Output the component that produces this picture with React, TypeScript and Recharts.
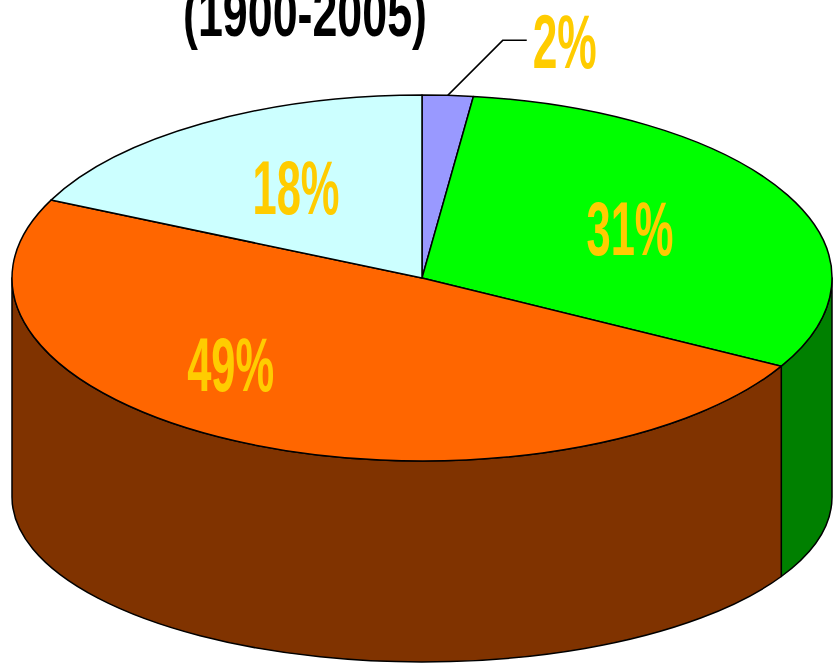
import React from 'react';
import { PieChart, Pie, Cell } from 'recharts';

const CATEGORIES = ['Slice A', 'Slice B', 'Slice C', 'Slice D'];
const VALUES = [2, 31, 49, 18];
const PERCENT_LABELS = ['2%', '31%', '49%', '18%'];
const TITLE = '(1900-2005)';

const TOP_COLORS = ['#9999FF', '#00FF00', '#FF6600', '#CCFFFF'];
const SIDE_COLORS = ['#5C5CB8', '#008000', '#803300', '#7FA3A3'];
const LABEL_COLOR = '#FFCC00';

const W = 834;
const H = 667;
const CX = 422;
const CY = 278;
const R = 410;
const RY_RATIO = 183 / 410;
const BOTTOM_RY_RATIO = 165 / 410;
const DEPTH = 219;
const RAD = Math.PI / 180;
const FONT = "'Liberation Sans Narrow', 'Liberation Sans', Arial, sans-serif";

const LABEL_ANGLE_SHIFT = [0, 2, -18, -1];
const LABEL_RADIUS = [0, 0.58, 0.66, 0.59];

const tableData = CATEGORIES.map((name, i) => ({ name, value: VALUES[i] }));

function idxOf(props: any): number {
  const n = props.name ?? props.payload?.name;
  let i = CATEGORIES.indexOf(n);
  if (i < 0 && typeof props.index === 'number') i = props.index;
  if (i < 0) i = TOP_COLORS.indexOf(props.fill);
  return i < 0 ? 0 : i;
}

function Sector3D(props: any) {
  const { cx, cy, outerRadius, startAngle, endAngle, fill } = props;
  const i = idxOf(props);
  const rx = outerRadius;
  const ry = rx * RY_RATIO;
  const ry2 = rx * BOTTOM_RY_RATIO;
  const cy2 = cy + DEPTH;
  const top = (a: number) => `${cx + rx * Math.cos(a * RAD)},${cy - ry * Math.sin(a * RAD)}`;
  const bot = (a: number) => `${cx + rx * Math.cos(a * RAD)},${cy2 - ry2 * Math.sin(a * RAD)}`;
  const hi = Math.max(startAngle, endAngle);
  const lo = Math.min(startAngle, endAngle);
  const large = hi - lo > 180 ? 1 : 0;
  const topPath = `M${cx},${cy} L${top(hi)} A${rx},${ry} 0 ${large} 1 ${top(lo)} Z`;
  const sides: string[] = [];
  for (let k = -2; k <= 2; k++) {
    const a = -180 + 360 * k;
    const b = 360 * k;
    const l = Math.max(lo, a);
    const h = Math.min(hi, b);
    if (h - l > 0.01) {
      sides.push(
        `M${top(h)} A${rx},${ry} 0 0 1 ${top(l)} L${bot(l)} A${rx},${ry2} 0 0 0 ${bot(h)} Z`
      );
    }
  }
  return (
    <g>
      {sides.map((d, j) => (
        <path key={j} d={d} fill={SIDE_COLORS[i]} stroke="#000" strokeWidth={1.5} strokeLinejoin="round" />
      ))}
      <path d={topPath} fill={fill} stroke="#000" strokeWidth={1.5} strokeLinejoin="round" />
    </g>
  );
}

function renderLabel(props: any) {
  const { cx, cy, midAngle, outerRadius, percent } = props;
  const i = idxOf(props);
  const rx = outerRadius;
  const ry = rx * RY_RATIO;
  const text = PERCENT_LABELS[i];
  const tl = text.length === 2 ? 64 : 87;
  if (percent < 0.05) {
    const ex = cx + rx * Math.cos(midAngle * RAD);
    const ey = cy - ry * Math.sin(midAngle * RAD);
    const kx = ex + 55;
    const ky = ey - 55;
    const hx = kx + 24;
    return (
      <g>
        <polyline points={`${ex},${ey} ${kx},${ky} ${hx},${ky}`} fill="none" stroke="#000" strokeWidth={1.5} />
        <text x={hx + 6} y={ky + 28} fill={LABEL_COLOR} fontFamily={FONT} fontWeight="bold" fontSize={76}
          textAnchor="start" textLength={tl} lengthAdjust="spacingAndGlyphs">{text}</text>
      </g>
    );
  }
  const a = midAngle + LABEL_ANGLE_SHIFT[i];
  const r = LABEL_RADIUS[i];
  const x = cx + rx * r * Math.cos(a * RAD);
  const y = cy - ry * r * Math.sin(a * RAD);
  return (
    <text x={x - tl / 2} y={y + 28} fill={LABEL_COLOR} fontFamily={FONT} fontWeight="bold" fontSize={76}
      textAnchor="start" textLength={tl} lengthAdjust="spacingAndGlyphs">{text}</text>
  );
}

export default function App() {
  return (
    <div style={{ position: 'absolute', left: 0, top: 0, width: W, height: H, background: '#fff', overflow: 'hidden' }}>
      <PieChart width={W} height={H} margin={{ top: 0, right: 0, bottom: 0, left: 0 }}>
        <text x={183} y={36} fill="#000" fontFamily={FONT} fontWeight="bold" fontSize={66}
          textLength={244} lengthAdjust="spacingAndGlyphs">{TITLE}</text>
        <Pie
          data={tableData}
          dataKey="value"
          nameKey="name"
          cx={CX}
          cy={CY}
          outerRadius={R}
          startAngle={90}
          endAngle={-270}
          isAnimationActive={false}
          shape={Sector3D as any}
          activeShape={Sector3D as any}
          inactiveShape={Sector3D as any}
          label={renderLabel}
          labelLine={false}
          stroke="#000"
        >
          {tableData.map((d, i) => (
            <Cell key={d.name} fill={TOP_COLORS[i]} />
          ))}
        </Pie>
      </PieChart>
    </div>
  );
}
